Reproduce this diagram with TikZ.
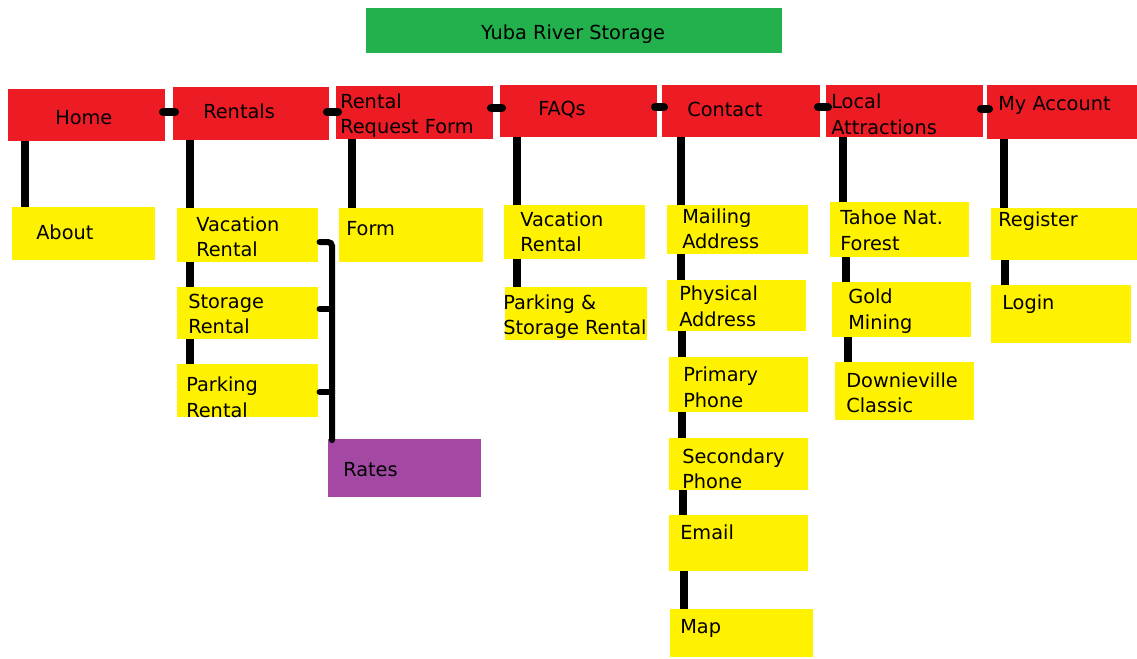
\documentclass[tikz,border=0pt]{standalone}
\usepackage{fontspec}
\setmainfont{DejaVu Sans}
\definecolor{cred}{HTML}{ED1C24}
\definecolor{cyel}{HTML}{FFF200}
\definecolor{cgrn}{HTML}{22B14C}
\definecolor{cpur}{HTML}{A349A4}
\tikzset{
  bx/.style={inner sep=0pt, draw=none},
  lbl/.style={inner sep=0pt, anchor=west, align=left, yshift=-1.2pt, font=\fontsize{14.5}{19.2}\selectfont},
  vline/.style={line width=6pt, black, line cap=butt},
  hlink/.style={line width=6.5pt, black, line cap=round},
  bline/.style={line width=4.5pt, black, line cap=round, rounded corners=3pt},
}
\newcommand{\bxat}[7]{% style, name, x1,y1,x2,y2, fill
  \node[bx, fill=#7, minimum width={(#5-#3)*0.75pt}, minimum height={(#6-#4)*0.75pt}] (#2) at ({(#3+#5)/2},{(#4+#6)/2}) {};}
\begin{document}
\begin{tikzpicture}[x=0.75pt,y=-0.75pt]
\useasboundingbox (0,0) rectangle (1137,658);
\fill[white] (0,0) rectangle (1137,658);
% title
\bxat{}{title}{366}{8}{782}{53}{cgrn}
\node[lbl, anchor=center] (ttitle) at (573,33) {Yuba River Storage};
% red top boxes
\bxat{}{home}{8}{89}{165}{141}{cred}
\bxat{}{rentals}{173}{87}{329}{140}{cred}
\bxat{}{rrf}{336}{86}{493}{139}{cred}
\bxat{}{faqs}{500}{85}{657}{137}{cred}
\bxat{}{contact}{662}{85}{820}{137}{cred}
\bxat{}{local}{826}{85}{983}{137}{cred}
\bxat{}{myacc}{987}{85}{1137}{139}{cred}
% yellow boxes
\bxat{}{about}{12}{207}{155}{260}{cyel}
\bxat{}{vac}{177}{208}{318}{262}{cyel}
\bxat{}{stor}{177}{287}{318}{339}{cyel}
\bxat{}{park}{177}{364}{318}{417}{cyel}
\bxat{}{rates}{328}{439}{481}{497}{cpur}
\bxat{}{form}{339}{208}{483}{262}{cyel}
\bxat{}{fvac}{504}{205}{645}{259}{cyel}
\bxat{}{fpark}{505}{287}{647}{340}{cyel}
\bxat{}{mail}{667}{205}{808}{254}{cyel}
\bxat{}{phys}{667}{280}{806}{331}{cyel}
\bxat{}{prim}{669}{357}{808}{412}{cyel}
\bxat{}{sec}{669}{438}{808}{490}{cyel}
\bxat{}{email}{669}{515}{808}{571}{cyel}
\bxat{}{map}{670}{609}{813}{657}{cyel}
\bxat{}{tahoe}{830}{202}{969}{257}{cyel}
\bxat{}{gold}{832}{282}{971}{337}{cyel}
\bxat{}{down}{835}{362}{974}{420}{cyel}
\bxat{}{reg}{991}{208}{1137}{260}{cyel}
\bxat{}{login}{991}{285}{1131}{343}{cyel}
% texts
\node[lbl] (thome) at (55,116) {Home};
\node[lbl] (trentals) at (203,110) {Rentals};
\node[lbl] (trrf) at (340,114) {Rental\\Request Form};
\node[lbl] (tfaqs) at (538,108) {FAQs};
\node[lbl] (tcontact) at (687,108) {Contact};
\node[lbl] (tlocal) at (831,112.5) {Local\\Attractions};
\node[lbl] (tmyacc) at (998,104) {My Account};
\node[lbl] (tabout) at (36,231) {About};
\node[lbl] (tvac) at (196,235) {Vacation\\Rental};
\node[lbl] (tstor) at (188,312.5) {Storage\\Rental};
\node[lbl] (tpark) at (186,395.5) {Parking\\Rental};
\node[lbl] (trates) at (343,468) {Rates};
\node[lbl] (tform) at (346,227) {Form};
\node[lbl] (tfvac) at (520,230) {Vacation\\Rental};
\node[lbl] (tfpark) at (503,315) {Parking \&\\Storage Rental};
\node[lbl] (tmail) at (682,227) {Mailing\\Address};
\node[lbl] (tphys) at (679,304.5) {Physical\\Address};
\node[lbl] (tprim) at (683,385.5) {Primary\\Phone};
\node[lbl] (tsec) at (682,467) {Secondary\\Phone};
\node[lbl] (temail) at (680,531) {Email};
\node[lbl] (tmap) at (680,627) {Map};
\node[lbl] (ttahoe) at (840,228.5) {Tahoe Nat.\\Forest};
\node[lbl] (tgold) at (848,309.5) {Gold\\Mining};
\node[lbl] (tdown) at (846,391) {Downieville\\Classic};
\node[lbl] (treg) at (998,220) {Register};
\node[lbl] (tlogin) at (1002,303) {Login};
% column coordinates
\coordinate (c1) at (25,0);
\coordinate (c2) at (190,0);
\coordinate (c3) at (352,0);
\coordinate (c4) at (517,0);
\coordinate (c5a) at (681,0);
\coordinate (c5b) at (682,0);
\coordinate (c5c) at (683,0);
\coordinate (c5d) at (684,0);
\coordinate (c6a) at (843,0);
\coordinate (c6b) at (846,0);
\coordinate (c6c) at (848,0);
\coordinate (c7a) at (1004,0);
\coordinate (c7b) at (1005,0);
% vertical links
\draw[vline] (home.south -| c1) -- (about.north -| c1);
\draw[vline] (rentals.south -| c2) -- (vac.north -| c2);
\draw[vline] (vac.south -| c2) -- (stor.north -| c2);
\draw[vline] (stor.south -| c2) -- (park.north -| c2);
\draw[vline] (rrf.south -| c3) -- (form.north -| c3);
\draw[vline] (faqs.south -| c4) -- (fvac.north -| c4);
\draw[vline] (fvac.south -| c4) -- (fpark.north -| c4);
\draw[vline] (contact.south -| c5a) -- (mail.north -| c5a);
\draw[vline] (mail.south -| c5a) -- (phys.north -| c5a);
\draw[vline] (phys.south -| c5b) -- (prim.north -| c5b);
\draw[vline] (prim.south -| c5b) -- (sec.north -| c5b);
\draw[vline] (sec.south -| c5c) -- (email.north -| c5c);
\draw[vline] (email.south -| c5d) -- (map.north -| c5d);
\draw[vline] (local.south -| c6a) -- (tahoe.north -| c6a);
\draw[vline] (tahoe.south -| c6b) -- (gold.north -| c6b);
\draw[vline] (gold.south -| c6c) -- (down.north -| c6c);
\draw[vline] (myacc.south -| c7a) -- (reg.north -| c7a);
\draw[vline] (reg.south -| c7b) -- (login.north -| c7b);
% horizontal links between top boxes
\coordinate (h1) at (0,112);
\coordinate (h2) at (0,112);
\coordinate (h3) at (0,108);
\coordinate (h4) at (0,107);
\coordinate (h5) at (0,107);
\coordinate (h6) at (0,109);
\draw[hlink] ([xshift=-1.5pt]home.east |- h1) -- ([xshift=1.5pt]rentals.west |- h1);
\draw[hlink] ([xshift=-1.5pt]rentals.east |- h2) -- ([xshift=1.5pt]rrf.west |- h2);
\draw[hlink] ([xshift=-1.5pt]rrf.east |- h3) -- ([xshift=1.5pt]faqs.west |- h3);
\draw[hlink] ([xshift=-1.5pt]faqs.east |- h4) -- ([xshift=1.5pt]contact.west |- h4);
\draw[hlink] ([xshift=-1.5pt]contact.east |- h5) -- ([xshift=1.5pt]local.west |- h5);
\draw[hlink] ([xshift=-1.5pt]local.east |- h6) -- ([xshift=1.5pt]myacc.west |- h6);
% rates bracket
\coordinate (b1) at (332,242);
\coordinate (b2) at (332,309);
\coordinate (b3) at (332,392);
\draw[bline] ([xshift=1pt]vac.east |- b1) -- (b1) -- ([yshift=-1pt]rates.north -| b1);
\draw[bline] ([xshift=1pt]stor.east |- b2) -- (b2);
\draw[bline] ([xshift=1pt]park.east |- b3) -- (b3);
\end{tikzpicture}
\end{document}
